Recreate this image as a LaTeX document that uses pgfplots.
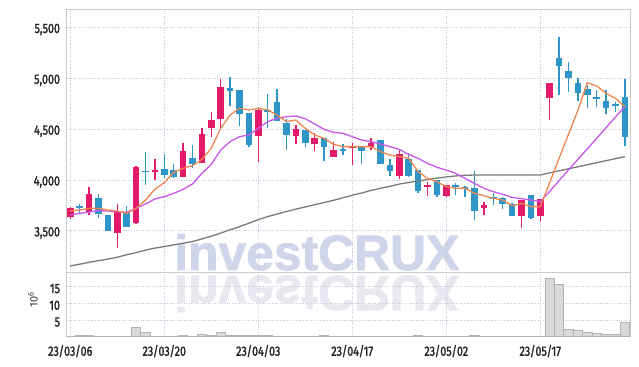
\documentclass[border=0pt]{standalone}
\usepackage{fontspec}
\setmainfont{Fira Sans}
\newfontfamily\tickfont{Fira Sans}[FakeStretch=0.8, FakeBold=1.8]
\newfontfamily\wmfont{Liberation Sans}[FakeBold=1.5]
\usepackage{pgfplots}
\pgfplotsset{compat=1.18}
\usepackage{pgfplotstable}

\definecolor{cup}{HTML}{E3196A}
\definecolor{cdn}{HTML}{2E95C9}
\definecolor{cma5}{HTML}{EE8750}
\definecolor{cma20}{HTML}{C957EC}
\definecolor{cma60}{HTML}{7A7A7A}
\definecolor{cgrid}{HTML}{C3C8DC}
\definecolor{cframe}{HTML}{CCCCCC}
\definecolor{cvol}{HTML}{D9D9D9}
\definecolor{cvoledge}{HTML}{B3B3B3}
\definecolor{cwm}{HTML}{D0D6EA}
\definecolor{cwm2}{HTML}{E8E8F1}

% up candles (close > open): lo=open, hi=close
\pgfplotstableread{
i lo hi L H
0 3639 3721 3613 3738
2 3688 3862 3656 3934
5 3475 3695 3328 3761
7 3574 4131 3567 4135
9 4080 4095 4000 4210
12 4033 4285 4033 4367
14 4164 4452 4164 4508
15 4515 4590 4426 4672
16 4597 4911 4515 4990
20 4433 4689 4174 4721
24 4436 4502 4354 4541
26 4351 4416 4285 4459
28 4229 4295 4225 4377
30 4318 4334 4147 4361
32 4328 4367 4295 4410
35 4043 4256 4010 4295
38 3935 3950 3842 3983
40 3846 3947 3836 3950
44 3721 3754 3656 3787
48 3649 3803 3524 3805
50 3649 3813 3597 3813
51 4810 4951 4590 4955
}\upT

% down candles: lo=close, hi=open
\pgfplotstableread{
i lo hi L H
1 3725 3742 3672 3764
3 3662 3820 3623 3859
4 3501 3656 3500 3660
6 3541 3688 3541 3747
8 4075 4092 3951 4272
10 4052 4108 4016 4256
11 4033 4098 4023 4157
13 4157 4220 4121 4341
17 4880 4902 4728 5016
18 4652 4885 4534 4890
19 4344 4656 4328 4660
21 4672 4688 4508 4843
22 4584 4767 4584 4892
23 4443 4557 4295 4597
25 4361 4492 4328 4495
27 4328 4416 4187 4416
29 4287 4302 4246 4354
31 4288 4325 4157 4325
33 4154 4393 4154 4393
34 4092 4147 4043 4203
36 4043 4210 4033 4262
37 3895 4098 3869 4098
39 3852 4000 3829 4000
41 3928 3947 3852 3967
42 3911 3934 3836 3937
43 3698 3918 3606 4092
45 3812 3828 3754 3869
46 3761 3820 3711 3836
47 3649 3764 3649 3777
49 3629 3852 3616 3852
52 5125 5197 4836 5403
53 5000 5072 4869 5157
54 4859 4951 4777 5000
55 4836 4895 4705 4934
56 4795 4812 4721 4885
57 4711 4777 4646 4885
58 4730 4748 4672 4770
59 4426 4813 4338 4993
}\dnT

\pgfplotstableread{
i ma5 ma20 ma60 vol
0 3695 3656 3154 0.1
1 3705 3672 3172 0.3
2 3721 3685 3190 0.3
3 3721 3698 3207 0.1
4 3705 3695 3222 0.1
5 3695 3688 3240 0.1
6 3672 3682 3265 0.1
7 3721 3721 3285 2.8
8 3803 3764 3310 1.2
9 3908 3813 3330 0.2
10 3974 3836 3345 0.1
11 4075 3869 3362 0.1
12 4115 3908 3378 0.4
13 4141 3961 3395 0.2
14 4203 4065 3420 0.8
15 4311 4154 3448 0.5
16 4508 4295 3478 1.4
17 4639 4377 3510 0.5
18 4705 4426 3541 0.4
19 4689 4443 3575 0.3
20 4705 4508 3610 0.4
21 4689 4574 3640 0.4
22 4639 4607 3665 0.2
23 4574 4623 3690 0.1
24 4590 4629 3713 0.2
25 4508 4603 3735 0.1
26 4443 4551 3757 0.1
27 4410 4498 3778 0.3
28 4351 4469 3800 0.1
29 4328 4459 3825 0.2
30 4328 4426 3850 0.2
31 4328 4393 3872 0.2
32 4328 4377 3898 0.1
33 4279 4354 3918 0.2
34 4246 4328 3938 0.2
35 4229 4302 3960 0.2
36 4213 4252 3975 0.1
37 4082 4213 3990 0.3
38 4016 4164 4005 0.1
39 3983 4125 4018 0.1
40 3934 4098 4030 0.1
41 3918 4065 4040 0.1
42 3918 4016 4046 0.1
43 3869 3967 4049 0.3
44 3846 3918 4049 0.05
45 3820 3885 4049 0.05
46 3803 3859 4049 0.05
47 3747 3829 4049 0.05
48 3770 3816 4049 0.05
49 3738 3803 4049 0.05
50 3738 3787 4049 0.05
51 3974 3888 4070 17.5
52 4213 3993 4090 15.8
53 4449 4098 4110 2.3
54 4685 4203 4130 2.0
55 4957 4305 4150 1.4
56 4925 4410 4170 1.1
57 4852 4515 4190 0.8
58 4803 4620 4210 0.8
59 4721 4721 4229 4.4
}\maT

\pgfplotsset{
  cstyle/.style={
    scale only axis,
    width=564bp,
    xmin=-0.38, xmax=59.62,
    axis line style={cframe, line width=0.8bp},
    major tick length=0pt,
    xmajorgrids, ymajorgrids,
    major grid style={cgrid, dotted, line width=0.7bp},
    xtick={0,10,20,30,40,50},
    tick label style={font=\tickfont\fontsize{13.5}{14}\selectfont, text=black!85},
    /pgf/number format/assume math mode=true,
    /pgf/number format/1000 sep={,},
    yticklabel style={inner sep=0pt, xshift=-6.5bp, yshift=-2bp},
  },
  candle/.style 2 args={draw=none, mark=none, forget plot,
    error bars/.cd, y dir=plus, y explicit, error mark=none,
    error bar style={line width=#1, draw=#2}},
}

\begin{document}
\begin{tikzpicture}[x=1bp,y=1bp]
\useasboundingbox (0,0) rectangle (639,366);
% watermark
\node[anchor=base west, inner sep=0pt, text=cwm, font=\wmfont\bfseries\fontsize{50}{50}\selectfont] at (174,96) {investCRUX};
\node[anchor=base west, inner sep=0pt, text=cwm2, font=\wmfont\bfseries\fontsize{50}{50}\selectfont, yscale=-1, transform shape] at (174,90) {investCRUX};

\begin{axis}[cstyle,
  at={(66.7bp,94bp)}, anchor=south west,
  height=263bp,
  ymin=3095, ymax=5682,
  ytick={3500,4000,4500,5000,5500},
  xticklabels={},
]
% wicks
\addplot[candle={1.3bp}{cup}] table[x=i, y=L, y error expr=\thisrow{H}-\thisrow{L}] {\upT};
\addplot[candle={1.3bp}{cdn}] table[x=i, y=L, y error expr=\thisrow{H}-\thisrow{L}] {\dnT};
% bodies
\addplot[candle={6.6bp}{cup}] table[x=i, y=lo, y error expr=\thisrow{hi}-\thisrow{lo}] {\upT};
\addplot[candle={6.6bp}{cdn}] table[x=i, y=lo, y error expr=\thisrow{hi}-\thisrow{lo}] {\dnT};
% moving averages
\addplot[cma60, line width=1.3bp, mark=none] table[x=i, y=ma60] {\maT};
\addplot[cma20, line width=1.3bp, mark=none] table[x=i, y=ma20] {\maT};
\addplot[cma5, line width=1.3bp, mark=none] table[x=i, y=ma5] {\maT};
\end{axis}

\begin{axis}[cstyle,
  at={(66.7bp,29.3bp)}, anchor=south west,
  height=64.7bp,
  ymin=0, ymax=19.4,
  ytick={5,10,15},
  xticklabels={23/03/06,23/03/20,23/04/03,23/04/17,23/05/02,23/05/17},
  xticklabel style={inner sep=0pt, yshift=-8bp, anchor=north},
]
\addplot[ybar, bar width=1, fill=cvol, draw=cvoledge, line width=0.6bp] table[x=i, y=vol] {\maT};
\end{axis}
\node[rotate=90, font=\fontsize{11}{11}\selectfont, text=black!80] at (33,66) {10\textsuperscript{6}};
\end{tikzpicture}
\end{document}
